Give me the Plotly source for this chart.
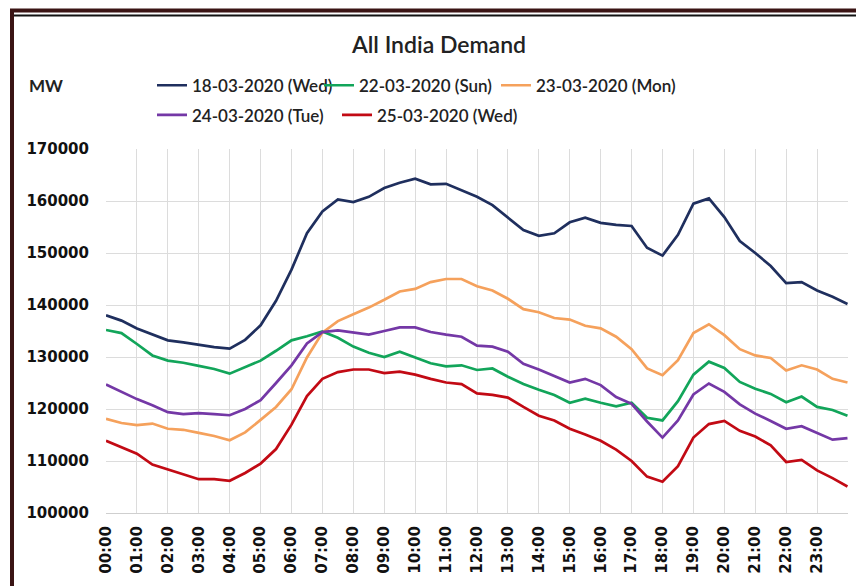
import plotly.graph_objects as go

times = ["00:00","00:30","01:00","01:30","02:00","02:30","03:00","03:30","04:00","04:30",
         "05:00","05:30","06:00","06:30","07:00","07:30","08:00","08:30","09:00","09:30",
         "10:00","10:30","11:00","11:30","12:00","12:30","13:00","13:30","14:00","14:30",
         "15:00","15:30","16:00","16:30","17:00","17:30","18:00","18:30","19:00","19:30",
         "20:00","20:30","21:00","21:30","22:00","22:30","23:00","23:30","23:59"]

d_18_03 = [138000,137000,135500,134300,133200,132800,132300,131900,131600,133300,
           136100,140800,146800,153800,158000,160300,159800,160800,162500,163500,
           164300,163200,163300,162100,160800,159200,156800,154400,153300,153800,
           155900,156800,155800,155400,155200,151000,149500,153500,159500,160500,
           156900,152300,150000,147500,144200,144400,142800,141600,140200]
d_22_03 = [135200,134600,132500,130300,129300,128900,128300,127700,126800,128000,
           129300,131200,133200,134000,134900,133700,132000,130800,130000,131000,
           129900,128800,128200,128400,127500,127800,126200,124800,123700,122700,
           121200,122000,121200,120500,121200,118300,117800,121500,126600,129100,
           127900,125200,123900,122900,121300,122400,120400,119800,118700]
d_23_03 = [118100,117300,116900,117200,116200,116000,115400,114800,114000,115500,
           117900,120400,123800,129900,134700,136900,138200,139500,141000,142600,
           143100,144400,145000,145000,143600,142800,141200,139200,138600,137500,
           137200,136000,135500,133900,131500,127800,126500,129400,134600,136300,
           134200,131500,130300,129800,127400,128400,127600,125800,125100]
d_24_03 = [124700,123300,121900,120700,119400,119000,119200,119000,118800,120000,
           121700,125000,128400,132600,134800,135100,134700,134300,135000,135700,
           135700,134800,134300,133900,132200,132000,131000,128700,127600,126300,
           125100,125800,124600,122300,121000,117600,114500,117800,122800,124900,
           123300,120900,119100,117700,116200,116700,115400,114100,114400]
d_25_03 = [113900,112700,111400,109300,108400,107400,106500,106500,106200,107700,
           109500,112300,117000,122500,125800,127100,127600,127600,126900,127200,
           126600,125800,125100,124800,123000,122700,122200,120400,118700,117800,
           116200,115100,113900,112200,110000,107000,106000,109000,114500,117100,
           117700,115800,114700,113000,109800,110200,108200,106700,105100]

series_names = ["18-03-2020 (Wed)", "22-03-2020 (Sun)", "23-03-2020 (Mon)",
                "24-03-2020 (Tue)", "25-03-2020 (Wed)"]
series_values = [d_18_03, d_22_03, d_23_03, d_24_03, d_25_03]
colors = ["#1f2f5e", "#12a55a", "#f5a15c", "#7438a6", "#c20a14"]

tick_labels = ["00:00","01:00","02:00","03:00","04:00","05:00","06:00","07:00",
               "08:00","09:00","10:00","11:00","12:00","13:00","14:00","15:00",
               "16:00","17:00","18:00","19:00","20:00","21:00","22:00","23:00"]
y_ticks = [100000,110000,120000,130000,140000,150000,160000,170000]

def to_hours(t):
    h, m = t.split(":")
    return int(h) + int(m) / 60.0

xs = [to_hours(t) for t in times]

# page body adds an 8px offset; work in screenshot pixel coordinates
OFF = 8
W, H = 856, 578
PL, PR, PT, PB = 106, 848, 149, 517          # plot area in screenshot px
L, T = PL - OFF, PT - OFF
R, B = W - (PR - OFF), H - (PB - OFF)
pw, ph = PR - PL, PB - PT

def px_x(p):
    return (p - PL) / pw

def px_y(p):
    return (PB - p) / ph

fig = go.Figure()
legend_ids = ["legend", "legend2", "legend3", "legend4", "legend5"]
text_starts = [(193, 85), (360, 85), (537, 85), (193, 115), (378, 115)]
for i, (name, vals, c) in enumerate(zip(series_names, series_values, colors)):
    fig.add_trace(go.Scatter(x=xs, y=vals, mode="lines", name=name,
                             line=dict(color=c, width=2.7),
                             legend=legend_ids[i]))

lfont = dict(family="Lato", size=17, color="#222222", weight=600)
for i, lid in enumerate(legend_ids):
    tx, ty = text_starts[i]
    fig.update_layout({lid: dict(x=px_x(tx - 41), y=px_y(ty), xanchor="left", yanchor="middle",
                                 orientation="h", font=lfont, bgcolor="rgba(0,0,0,0)",
                                 itemwidth=30, tracegroupgap=0)})

axis_font = dict(family="DejaVu Sans", size=15, color="#111111", weight="bold")
fig.update_layout(
    width=W, height=H,
    margin=dict(l=L, r=R, t=T, b=B),
    paper_bgcolor="white", plot_bgcolor="white",
    xaxis=dict(range=[0, 24], tickmode="array", tickvals=list(range(25)),
               ticktext=tick_labels + [""], tickangle=-90, tickfont=axis_font,
               ticklabelstandoff=6,
               showgrid=True, gridcolor="#dcdcdc", gridwidth=1,
               showline=True, linecolor="#cfcfcf", linewidth=1, mirror=False,
               ticks="", zeroline=False),
    yaxis=dict(range=[100000, 170000], tickmode="array", tickvals=y_ticks,
               ticktext=[str(v) for v in y_ticks], tickfont=axis_font,
               ticklabelstandoff=16,
               showgrid=True, gridcolor="#dcdcdc", gridwidth=1, zeroline=False,
               ticks="", showline=False),
    showlegend=True,
)

fig.add_annotation(text="All India Demand", xref="paper", yref="paper",
                   x=px_x(438), y=px_y(43), showarrow=False,
                   xanchor="center", yanchor="middle",
                   font=dict(family="Lato", size=23, color="#222222", weight=600))
fig.add_annotation(text="MW", xref="paper", yref="paper", x=px_x(46), y=px_y(85),
                   showarrow=False, xanchor="center", yanchor="middle",
                   font=dict(family="Lato", size=17, color="#222222", weight=700))

# outer frame
fig.add_shape(type="rect", xref="paper", yref="paper",
              x0=px_x(12), x1=px_x(858), y0=px_y(600), y1=px_y(9),
              line=dict(color="#3a1414", width=4), layer="above")
fig.add_shape(type="line", xref="paper", yref="paper",
              x0=px_x(14), x1=px_x(856), y0=px_y(14), y1=px_y(14),
              line=dict(color="#111111", width=2), layer="above")

fig.write_html("out.html")
